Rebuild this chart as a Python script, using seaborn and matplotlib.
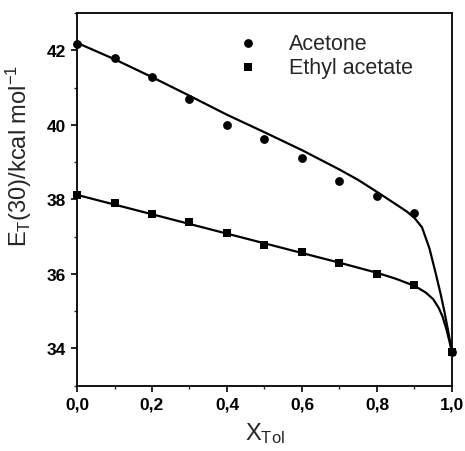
import matplotlib
matplotlib.use("Agg")
import matplotlib.pyplot as plt
import pandas as pd
import seaborn as sns
from matplotlib.ticker import MultipleLocator

# measured points
x_tol = [0.0, 0.1, 0.2, 0.3, 0.4, 0.5, 0.6, 0.7, 0.8, 0.9, 1.0]
acetone = [42.18, 41.79, 41.29, 40.70, 40.00, 39.62, 39.10, 38.50, 38.10, 37.63, 33.91]
ethyl_acetate = [38.12, 37.90, 37.60, 37.40, 37.09, 36.78, 36.58, 36.29, 36.00, 35.71, 33.91]

# fitted curves
fit_x_ac = [0.0, 0.1, 0.2, 0.3, 0.4, 0.5, 0.6, 0.7, 0.75, 0.8, 0.85, 0.88, 0.9, 0.92, 0.94,
            0.955, 0.97, 0.98, 0.99, 1.0]
fit_y_ac = [42.2, 41.76, 41.28, 40.78, 40.27, 39.8, 39.32, 38.8, 38.52, 38.2, 37.87, 37.67,
            37.5, 37.25, 36.68, 36.08, 35.45, 34.98, 34.45, 33.9]
fit_x_ea = [0.0, 0.1, 0.2, 0.3, 0.4, 0.5, 0.6, 0.7, 0.8, 0.85, 0.9, 0.93, 0.95, 0.965,
            0.975, 0.985, 0.993, 1.0]
fit_y_ea = [38.12, 37.86, 37.6, 37.34, 37.08, 36.82, 36.56, 36.3, 36.03, 35.87, 35.68,
            35.5, 35.32, 35.08, 34.85, 34.52, 34.2, 33.9]

xtick_vals = [0.0, 0.2, 0.4, 0.6, 0.8, 1.0]
xtick_labels = ["0,0", "0,2", "0,4", "0,6", "0,8", "1,0"]
ytick_vals = [34, 36, 38, 40, 42]

sns.set_theme(style="ticks")
plt.rcParams['font.family'] = ['Liberation Sans', 'DejaVu Sans']
plt.rcParams['mathtext.fontset'] = 'custom'
plt.rcParams['mathtext.rm'] = 'Liberation Sans'
plt.rcParams['mathtext.it'] = 'Liberation Sans'

fig = plt.figure(figsize=(4.65, 4.52), dpi=100)
ax = fig.add_axes([0.1656, 0.1445, 0.8064, 0.8245])

fit_ac = pd.DataFrame({"x": fit_x_ac, "y": fit_y_ac})
fit_ea = pd.DataFrame({"x": fit_x_ea, "y": fit_y_ea})
sns.lineplot(data=fit_ac, x="x", y="y", color="black", lw=1.6, ax=ax, sort=False)
sns.lineplot(data=fit_ea, x="x", y="y", color="black", lw=1.6, ax=ax, sort=False)

pts = pd.DataFrame({"x": x_tol, "ac": acetone, "ea": ethyl_acetate})
sns.scatterplot(data=pts, x="x", y="ac", marker="o", s=40, color="black",
                edgecolor="black", linewidth=0, ax=ax, label="Acetone",
                zorder=3, clip_on=False)
sns.scatterplot(data=pts, x="x", y="ea", marker="s", s=28, color="black",
                edgecolor="black", linewidth=0, ax=ax, label="Ethyl acetate",
                zorder=3, clip_on=False)

ax.set_xlim(0, 1.0)
ax.set_ylim(33, 43)
ax.set_xticks(xtick_vals)
ax.set_xticklabels(xtick_labels, fontweight="bold")
ax.set_yticks(ytick_vals)
ax.set_yticklabels([str(v) for v in ytick_vals], fontweight="bold")
ax.xaxis.set_minor_locator(MultipleLocator(0.1))
ax.yaxis.set_minor_locator(MultipleLocator(1))
ax.tick_params(which="major", direction="out", length=4, width=1.2, labelsize=12.5,
               pad=4, colors="black")
ax.tick_params(which="minor", direction="out", length=2.5, width=1.0)
for sp in ax.spines.values():
    sp.set_linewidth(1.3)
    sp.set_color("black")

ax.set_xlabel("X$_{\\mathrm{Tol}}$", fontsize=17, labelpad=6)
ax.set_ylabel("E$_{\\mathrm{T}}$(30)/kcal mol$^{\\mathrm{-1}}$", fontsize=17)
ax.yaxis.set_label_coords(-0.115, 0.62)

ax.legend(loc="upper left", bbox_to_anchor=(0.427, 0.946), frameon=False,
          fontsize=15.5, handlelength=1.0, handletextpad=1.4, labelspacing=0.12,
          borderpad=0, borderaxespad=0)

fig.savefig("out.png", dpi=100)
